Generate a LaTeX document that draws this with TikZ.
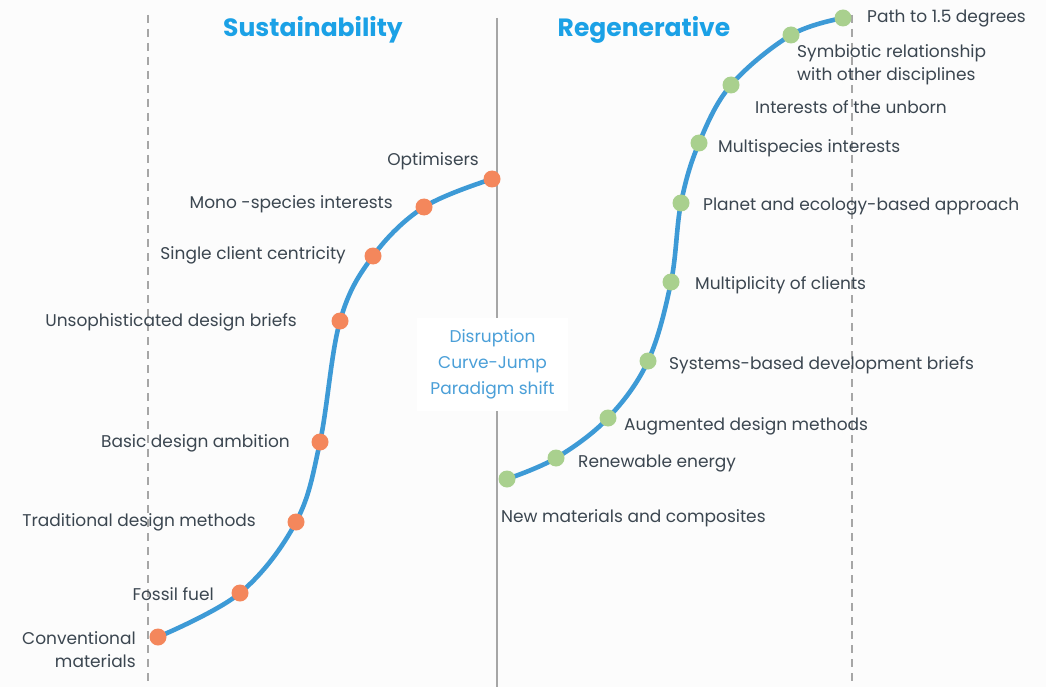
\documentclass[tikz,border=0pt]{standalone}
\usepackage{fontspec}
\setmainfont{Poppins}
\definecolor{curveblue}{HTML}{3D9AD6}
\definecolor{dotorange}{HTML}{F4875C}
\definecolor{dotgreen}{HTML}{A9D08E}
\definecolor{labeltext}{HTML}{3B4650}
\definecolor{titleblue}{HTML}{1BA1E6}
\definecolor{notetext}{HTML}{4A9FD8}
\definecolor{guidegray}{HTML}{A6A6A6}
\begin{document}
\begin{tikzpicture}[x=1pt,y=-1pt,
  guide/.style={draw=guidegray,line width=1.6pt},
  scurve/.style={draw=curveblue,line width=4.6pt,line cap=round},
  olddot/.style={circle,fill=dotorange,inner sep=0pt,minimum size=17pt},
  newdot/.style={circle,fill=dotgreen,inner sep=0pt,minimum size=17pt},
  lbl/.style={text=labeltext,font=\fontsize{17}{23}\selectfont,inner sep=0pt,yshift=-2pt},
  lleft/.style={lbl,anchor=east},
  lright/.style={lbl,anchor=west},
  heading/.style={text=titleblue,font=\fontsize{25}{28}\selectfont\bfseries,inner sep=0pt},
  note/.style={text=notetext,font=\fontsize{17}{26}\selectfont,align=center,fill=white,
    minimum width=151pt,minimum height=93pt,inner sep=0pt}]
\useasboundingbox (0,0) rectangle (1046,687);
\fill[white!99!black] (0,0) rectangle (1046,687);

% guide lines
\coordinate (g1t) at (148,15);  \coordinate (g1b) at (148,687);
\coordinate (g2t) at (497,18);  \coordinate (g2b) at (497,687);
\coordinate (g3t) at (852,15);  \coordinate (g3b) at (852,687);
\draw[guide,dash pattern=on 8pt off 6pt] (g1t) -- (g1b);
\draw[guide] (g2t) -- (g2b);
\draw[guide,dash pattern=on 8pt off 6pt] (g3t) -- (g3b);

% headings
\node[heading] (hsus) at (313,30) {Sustainability};
\node[heading] (hreg) at (644,30) {Regenerative};

% note box over the middle line
\node[note] (shift) at (492.5,364) {Disruption\\Curve-Jump\\Paradigm shift};

% points on the old curve
\coordinate (o1) at (158,637);
\coordinate (o2) at (240,593);
\coordinate (o3) at (296,522);
\coordinate (o4) at (320,442);
\coordinate (o5) at (340,321);
\coordinate (o6) at (373,256);
\coordinate (o7) at (424,207);
\coordinate (o8) at (492,179);
% points on the new curve
\coordinate (n1) at (507,479);
\coordinate (n2) at (556,458);
\coordinate (n3) at (608,418);
\coordinate (n4) at (648,361);
\coordinate (n5) at (671,282);
\coordinate (n6) at (681,203);
\coordinate (n7) at (699,143);
\coordinate (n8) at (731,85);
\coordinate (n9) at (791,35);
\coordinate (n10) at (843,18);

\draw[scurve] plot[smooth,tension=0.6] coordinates {(o1) (o2) (o3) (o4) (o5) (o6) (o7) (o8)};
\draw[scurve] plot[smooth,tension=0.6] coordinates {(n1) (n2) (n3) (n4) (n5) (n6) (n7) (n8) (n9) (n10)};

\foreach \p in {o1,o2,o3,o4,o5,o6,o7,o8} \node[olddot] (d\p) at (\p) {};
\foreach \p in {n1,n2,n3,n4,n5,n6,n7,n8,n9,n10} \node[newdot] (d\p) at (\p) {};

% labels of the old curve
\node[lleft] (lo8) at (479,159) {Optimisers};
\node[lleft] (lo7) at (393,202) {Mono -species interests};
\node[lleft] (lo6) at (346,253) {Single client centricity};
\node[lleft] (lo5) at (297,320) {Unsophisticated design briefs};
\node[lleft] (lo4) at (290,441) {Basic design ambition};
\node[lleft] (lo3) at (256,520) {Traditional design methods};
\node[lleft] (lo2) at (214,592) {Fossil fuel};
\node[lleft,align=right] (lo1) at (136,647.5) {Conventional\\materials};

% labels of the new curve
\node[lright] (ln10) at (867,17) {Path to 1.5 degrees};
\node[lright,align=left] (ln9) at (797,62.5) {Symbiotic relationship\\with other disciplines};
\node[lright] (ln8) at (755,105) {Interests of the unborn};
\node[lright] (ln7) at (718,146) {Multispecies interests};
\node[lright] (ln6) at (703,205) {Planet and ecology-based approach};
\node[lright] (ln5) at (695,283) {Multiplicity of clients};
\node[lright] (ln4) at (669,363) {Systems-based development briefs};
\node[lright] (ln3) at (624,424) {Augmented design methods};
\node[lright] (ln2) at (578,462) {Renewable energy};
\node[lright] (ln1) at (501,516) {New materials and composites};
\end{tikzpicture}
\end{document}
